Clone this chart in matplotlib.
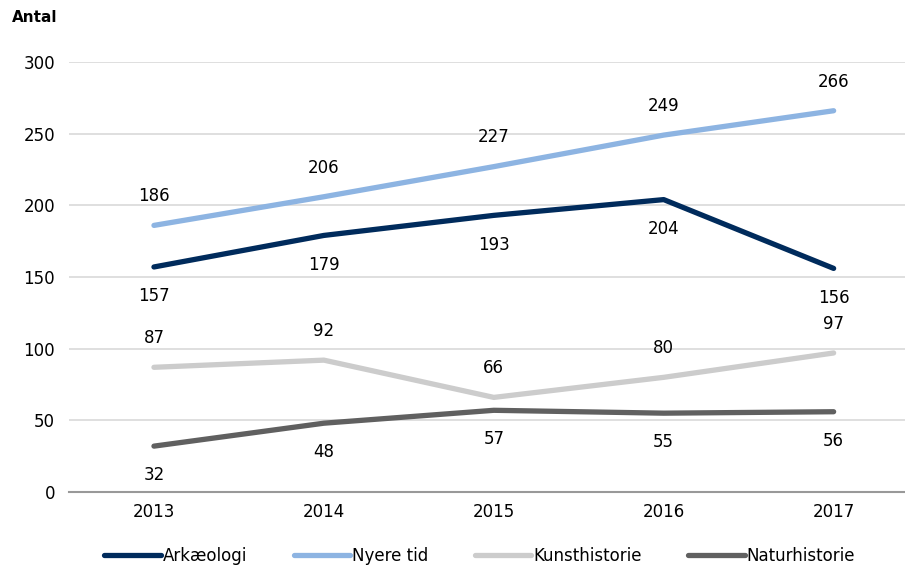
import numpy as np
import matplotlib.pyplot as plt

years = ['2013', '2014', '2015', '2016', '2017']
arkaeologi = [157, 179, 193, 204, 156]
nyere_tid = [186, 206, 227, 249, 266]
kunsthistorie = [87, 92, 66, 80, 97]
naturhistorie = [32, 48, 57, 55, 56]

series = [
    ('Arkæologi', arkaeologi, '#002b5c', -1),
    ('Nyere tid', nyere_tid, '#8db4e2', 1),
    ('Kunsthistorie', kunsthistorie, '#cccccc', 1),
    ('Naturhistorie', naturhistorie, '#606060', -1),
]

plt.rcParams['font.family'] = 'DejaVu Sans'

fig = plt.figure(figsize=(9.05, 5.66), dpi=100)
ax = fig.add_axes([69/905, 1-492/566, 1-69/905, 430/566])

x = np.arange(len(years))
for name, vals, col, side in series:
    ax.plot(x, vals, color=col, lw=3.8, solid_capstyle='round', label=name, zorder=3)
    for xi, v in zip(x, vals):
        ax.annotate(str(v), (xi, v), xytext=(0, 21*side), textcoords='offset points',
                    ha='center', va='center', fontsize=12)

ax.set_ylim(0, 300)
ax.set_xlim(-0.5, 4.42)
ax.set_yticks(range(0, 301, 50))
ax.set_xticks(x)
ax.set_xticklabels(years)
ax.tick_params(length=0, labelsize=12, pad=10)
ax.tick_params(axis='x', pad=8)
ax.grid(axis='y', color='#d9d9d9', lw=1.2)
ax.set_axisbelow(True)
for s in ['top', 'right', 'left']:
    ax.spines[s].set_visible(False)
ax.spines['bottom'].set_color('#999999')
ax.spines['bottom'].set_linewidth(1.5)

fig.text(12/905, 1-18/566, 'Antal', fontsize=11, fontweight='bold', va='center')

fig.legend(loc='center', bbox_to_anchor=(0.53, 1-556/566), ncol=4, frameon=False,
           fontsize=12, handlelength=3.4, handletextpad=0.1, columnspacing=2.8)

fig.savefig('out.png', dpi=100)
